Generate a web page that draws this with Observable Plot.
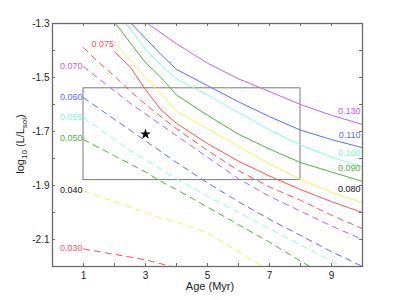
<!DOCTYPE html>
<html><head><meta charset="utf-8">
<script src="https://cdn.jsdelivr.net/npm/d3@7"></script>
<script src="https://cdn.jsdelivr.net/npm/@observablehq/plot@0.6"></script>
<style>body{margin:0;background:#fff}</style>
</head><body><div id="chart"></div>
<script>
// Solid tracks (higher masses), age in Myr vs log10(L/Lsun)
const solidAges = [2, 2.5, 3, 3.5, 4, 5, 6, 7, 8, 9, 10];
const solid130 = [-1.19, -1.25, -1.295, -1.335, -1.375, -1.447, -1.505, -1.552, -1.600, -1.640, -1.674];
const solid110 = [-1.23, -1.295, -1.355, -1.415, -1.47, -1.53, -1.59, -1.645, -1.695, -1.73, -1.76];
const solid100 = [-1.25, -1.32, -1.395, -1.455, -1.505, -1.565, -1.63, -1.695, -1.75, -1.795, -1.83];
const solid090 = [-1.295, -1.37, -1.445, -1.50, -1.565, -1.64, -1.71, -1.765, -1.815, -1.85, -1.885];
const solid080 = [-1.37, -1.435, -1.50, -1.56, -1.625, -1.69, -1.755, -1.82, -1.878, -1.925, -1.963];
const solid075 = [-1.405, -1.46, -1.545, -1.62, -1.67, -1.745, -1.81, -1.865, -1.915, -1.96, -2.0];
const solidMasses = ["0.130", "0.110", "0.100", "0.090", "0.080", "0.075"];

// Dashed tracks (lower masses)
const dashedAges = [1, 1.5, 2, 2.5, 3, 3.5, 4, 5, 6, 7, 8, 9, 10];
const dashed075 = [-1.39, -1.445, -1.495, -1.55, -1.60, -1.645, -1.69, -1.77, -1.845, -1.905, -1.955, -2.01, -2.06];
const dashed070 = [-1.46, -1.505, -1.55, -1.595, -1.635, -1.675, -1.715, -1.795, -1.875, -1.94, -1.995, -2.05, -2.10];
const dashed060 = [-1.575, -1.615, -1.655, -1.695, -1.735, -1.775, -1.815, -1.89, -1.96, -2.025, -2.085, -2.145, -2.20];
const dashed055 = [-1.65, -1.69, -1.73, -1.77, -1.805, -1.84, -1.875, -1.94, -2.0, -2.06, -2.12, -2.18, -2.24];
const dashed050 = [-1.73, -1.76, -1.79, -1.82, -1.85, -1.885, -1.915, -1.98, -2.045, -2.11, -2.18, -2.245, null];
const dashed040 = [-1.92, -1.94, -1.96, -1.98, -2.0, -2.02, -2.035, -2.075, -2.145, -2.215, null, null, null];
const dashed030 = [-2.135, -2.145, -2.155, -2.165, -2.175, -2.19, -2.205, null, null, null, null, null, null];
const dashedMasses = ["0.075", "0.070", "0.060", "0.055", "0.050", "0.040", "0.030"];

// Object (star) and box
const starAge = [3];
const starLum = [-1.71];
const boxAges = [1, 8];
const boxLums = [-1.54, -1.88];

// Ticks and titles
const xTicks = [1, 2, 3, 4, 5, 6, 7, 8, 9];
const xTickLabels = [1, 3, 5, 7, 9];
const yTicks = [-2.1, -2.0, -1.9, -1.8, -1.7, -1.6, -1.5, -1.4];
const yTickLabels = [-2.1, -1.9, -1.7, -1.5, -1.3];
const xTitle = "Age (Myr)";

// Styles
const C = {purple: "#c060f0", blue: "#5a6cf5", cyan: "#80ffd8", green: "#4cb33c", yellow: "#f2f25a", red: "#ff5050"};
const solidColors = [C.purple, C.blue, C.cyan, C.green, C.yellow, C.red];
const solidLabelColors = [C.purple, C.blue, "#7ff5d0", C.green, "#111", null];
const dashedColors = [C.red, C.purple, C.blue, C.cyan, C.green, C.yellow, C.red];
const dashedLabelColors = [C.red, C.purple, C.blue, "#7ff5d0", C.green, "#111", C.red];

function rows(ages, lums) {
  return ages.map((a, i) => ({age: a, lum: lums[i]})).filter(d => d.lum != null);
}
const solidLums = [solid130, solid110, solid100, solid090, solid080, solid075];
const dashedLums = [dashed075, dashed070, dashed060, dashed055, dashed050, dashed040, dashed030];

const marks = [];
const W = 399, H = 300, mL = 52, mR = 37, mT = 23, mB = 34;
const pw = W - mL - mR, ph = H - mT - mB;

marks.push(Plot.rect([{x1: boxAges[0], x2: boxAges[1], y1: boxLums[0], y2: boxLums[1]}],
  {x1: "x1", x2: "x2", y1: "y1", y2: "y2", fill: "none", stroke: "#7a7a7a", strokeWidth: 1}));

dashedLums.forEach((l, i) => {
  marks.push(Plot.line(rows(dashedAges, l), {x: "age", y: "lum", stroke: dashedColors[i], strokeWidth: 1, strokeDasharray: "6,5", clip: true}));
});
solidLums.forEach((l, i) => {
  marks.push(Plot.line(rows(solidAges, l), {x: "age", y: "lum", stroke: solidColors[i], strokeWidth: 1, clip: true}));
});

// Left labels (dashed tracks)
dashedLums.forEach((l, i) => {
  const first = rows(dashedAges, l)[0];
  if (dashedMasses[i] === "0.075") {
    marks.push(Plot.text([first], {x: "age", y: "lum", text: () => dashedMasses[i], textAnchor: "start", dx: 8, dy: -4, fill: dashedLabelColors[i], fontSize: 9}));
  } else {
    marks.push(Plot.text([first], {x: "age", y: "lum", text: () => dashedMasses[i], textAnchor: "end", dx: -1, dy: -1, fill: dashedLabelColors[i], fontSize: 9}));
  }
});
// Right labels (solid tracks)
solidLums.forEach((l, i) => {
  if (!solidLabelColors[i]) return;
  const r = rows(solidAges, l);
  const last = r[r.length - 1];
  marks.push(Plot.text([last], {x: "age", y: "lum", text: () => solidMasses[i], textAnchor: "end", dx: -2, dy: -13, fill: solidLabelColors[i], fontSize: 9}));
});

// Star
marks.push(Plot.dot(starAge.map((a, i) => ({age: a, lum: starLum[i]})), {x: "age", y: "lum", symbol: "star", r: 3.4, fill: "black", stroke: "none"}));

// Frame and inward ticks
marks.push(Plot.frame({stroke: "#6a6a6a", strokeWidth: 1.3}));
marks.push(Plot.tickX(xTicks, {x: d => d, insetTop: ph - 3, stroke: "#6a6a6a"}));
marks.push(Plot.tickX(xTicks, {x: d => d, insetBottom: ph - 3, stroke: "#6a6a6a"}));
marks.push(Plot.tickY(yTicks, {y: d => d, insetRight: pw - 3, stroke: "#6a6a6a"}));
marks.push(Plot.tickY(yTicks, {y: d => d, insetLeft: pw - 3, stroke: "#6a6a6a"}));
marks.push(Plot.axisX(xTickLabels, {tickSize: 0, tickPadding: 5, label: null, fontSize: 10, fill: "#222"}));
marks.push(Plot.axisY(yTickLabels, {tickSize: 0, tickPadding: 3, label: null, tickFormat: d => d.toFixed(1), fontSize: 10, fill: "#222"}));

const plot = Plot.plot({
  width: W, height: H,
  marginLeft: mL, marginRight: mR, marginTop: mT, marginBottom: mB,
  x: {domain: [0, 10]},
  y: {domain: [-2.2, -1.3]},
  style: {fontFamily: "'Liberation Sans', Arial, sans-serif", fontSize: "10px", background: "white"},
  marks
});

const svg = d3.select(plot);
svg.append("text")
  .attr("x", 210).attr("y", 290)
  .attr("text-anchor", "middle")
  .attr("font-size", 11)
  .attr("fill", "#222")
  .text(xTitle);
const t = svg.append("text")
  .attr("transform", "translate(24,144) rotate(-90)")
  .attr("text-anchor", "middle")
  .attr("font-size", 11)
  .attr("fill", "#222");
t.append("tspan").text("log");
t.append("tspan").attr("font-size", 8).attr("dy", 3).text("10");
t.append("tspan").attr("dy", -3).text(" (L/L");
t.append("tspan").attr("font-size", 8).attr("dy", 3).text("sol");
t.append("tspan").attr("dy", -3).text(")");

document.getElementById("chart").appendChild(plot);
</script>
</body></html>
